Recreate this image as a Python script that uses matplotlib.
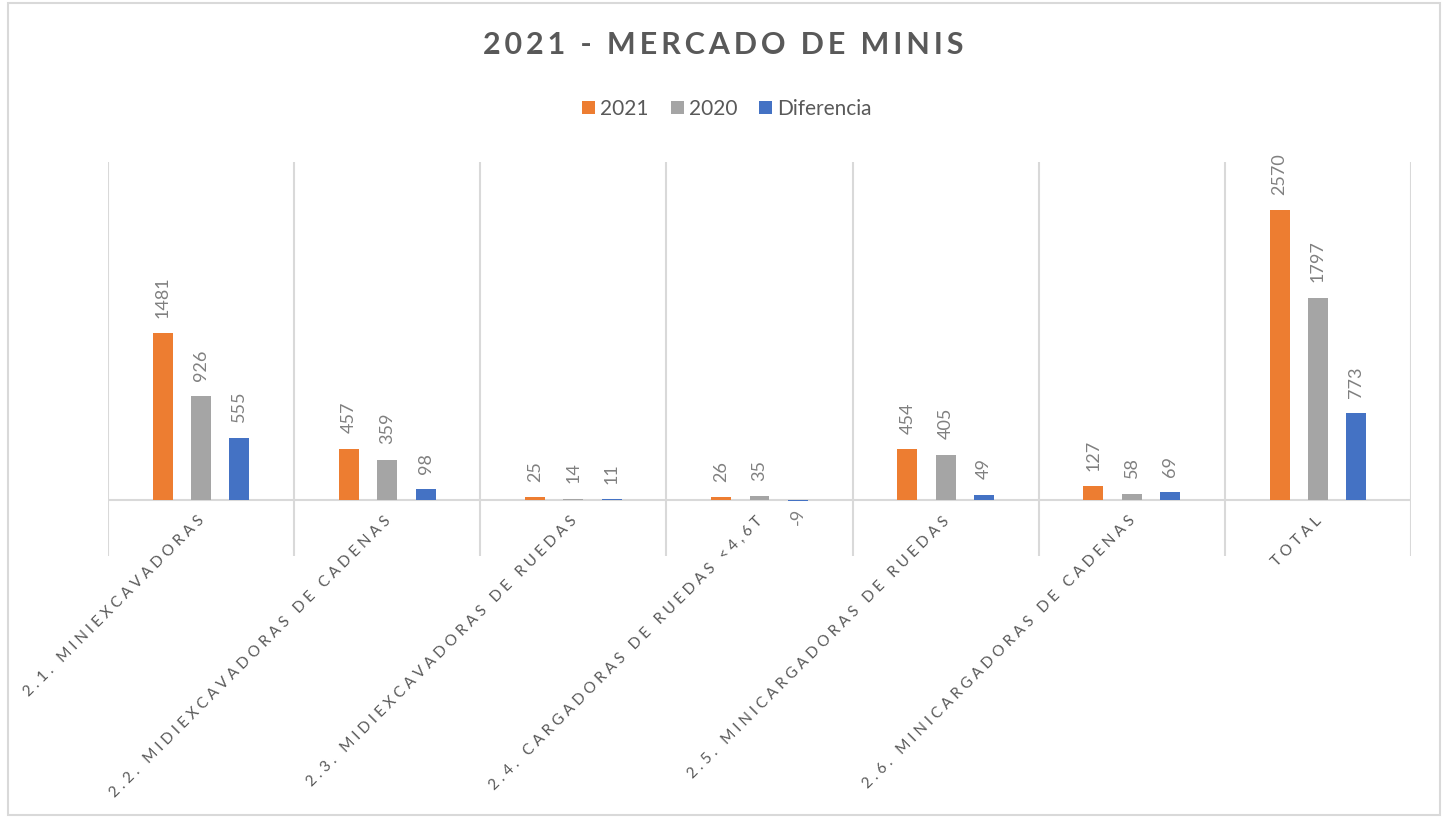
import numpy as np
import matplotlib
matplotlib.use('Agg')
import matplotlib.pyplot as plt
from matplotlib.patches import Rectangle

categories = ['2.1. MINIEXCAVADORAS', '2.2. MIDIEXCAVADORAS DE CADENAS',
              '2.3. MIDIEXCAVADORAS DE RUEDAS', '2.4. CARGADORAS DE RUEDAS <4,6T',
              '2.5. MINICARGADORAS DE RUEDAS', '2.6. MINICARGADORAS DE CADENAS', 'TOTAL']
series_names = ['2021', '2020', 'Diferencia']
v2021 = [1481, 457, 25, 26, 454, 127, 2570]
v2020 = [926, 359, 14, 35, 405, 58, 1797]
diferencia = [555, 98, 11, -9, 49, 69, 773]
title = '2021 - MERCADO DE MINIS'

colors = ['#ED7D31', '#A5A5A5', '#4472C4']
grid_c = '#D9D9D9'
txt_c = '#595959'
lbl_c = '#808080'
fam = ['Lato', 'DejaVu Sans']
plt.rcParams['font.family'] = fam


def spaced(s, sp='\u2009'):
    return sp.join(list(s))


fig = plt.figure(figsize=(14.49, 8.18), dpi=100)
ax = fig.add_axes([108/1449, 1-556/818, (1411-108)/1449, (556-162)/818])

x = np.arange(len(categories))
w = 0.107
step = 0.206
for k, (vals, c, name) in enumerate(zip([v2021, v2020, diferencia], colors, series_names)):
    xs = x + (k-1)*step
    bars = ax.bar(xs, vals, w, color=c, label=name, zorder=3)
    for xx, v in zip(xs, vals):
        if v >= 0:
            ax.annotate(str(v), (xx, v), xytext=(0, 11), textcoords='offset points',
                        rotation=90, ha='center', va='bottom', fontsize=13, color=lbl_c)
        else:
            ax.annotate(str(v), (xx, v), xytext=(0, -5), textcoords='offset points',
                        rotation=90, ha='center', va='top', fontsize=13, color=lbl_c)

ax.set_xlim(-0.5, len(categories)-0.5)
ax.set_ylim(-495, 3000)
ax.vlines(np.arange(-0.5, len(categories)), -495, 3000, color=grid_c, lw=1.5, zorder=1)
ax.axhline(0, color=grid_c, lw=1.5, zorder=2)
for s in ax.spines.values():
    s.set_visible(False)
ax.set_xticks([])
ax.set_yticks([])

for xx, cat in zip(x, categories):
    ax.text(xx - 0.02, -120, spaced(cat, '\u2009\u200a\u200a'), rotation=45, rotation_mode='anchor',
            ha='right', va='top', fontsize=11, color=txt_c)

fig.text(723/1449, 1-45/818, spaced(title, '\u2009'), ha='center', va='center',
         fontsize=22, fontweight='bold', color=txt_c)

leg = fig.legend(loc='center', bbox_to_anchor=(727/1449, 1-109/818), ncol=3, frameon=False,
                 fontsize=15, handlelength=0.63, handleheight=0.63, handletextpad=0.25,
                 columnspacing=1.05, labelcolor=txt_c)

fig.patches.append(Rectangle((8/1449, 3/818), (1440-8)/1449, (815-3)/818,
                             transform=fig.transFigure, fill=False, ec=grid_c, lw=1.5))

fig.savefig('out.png', dpi=100)
